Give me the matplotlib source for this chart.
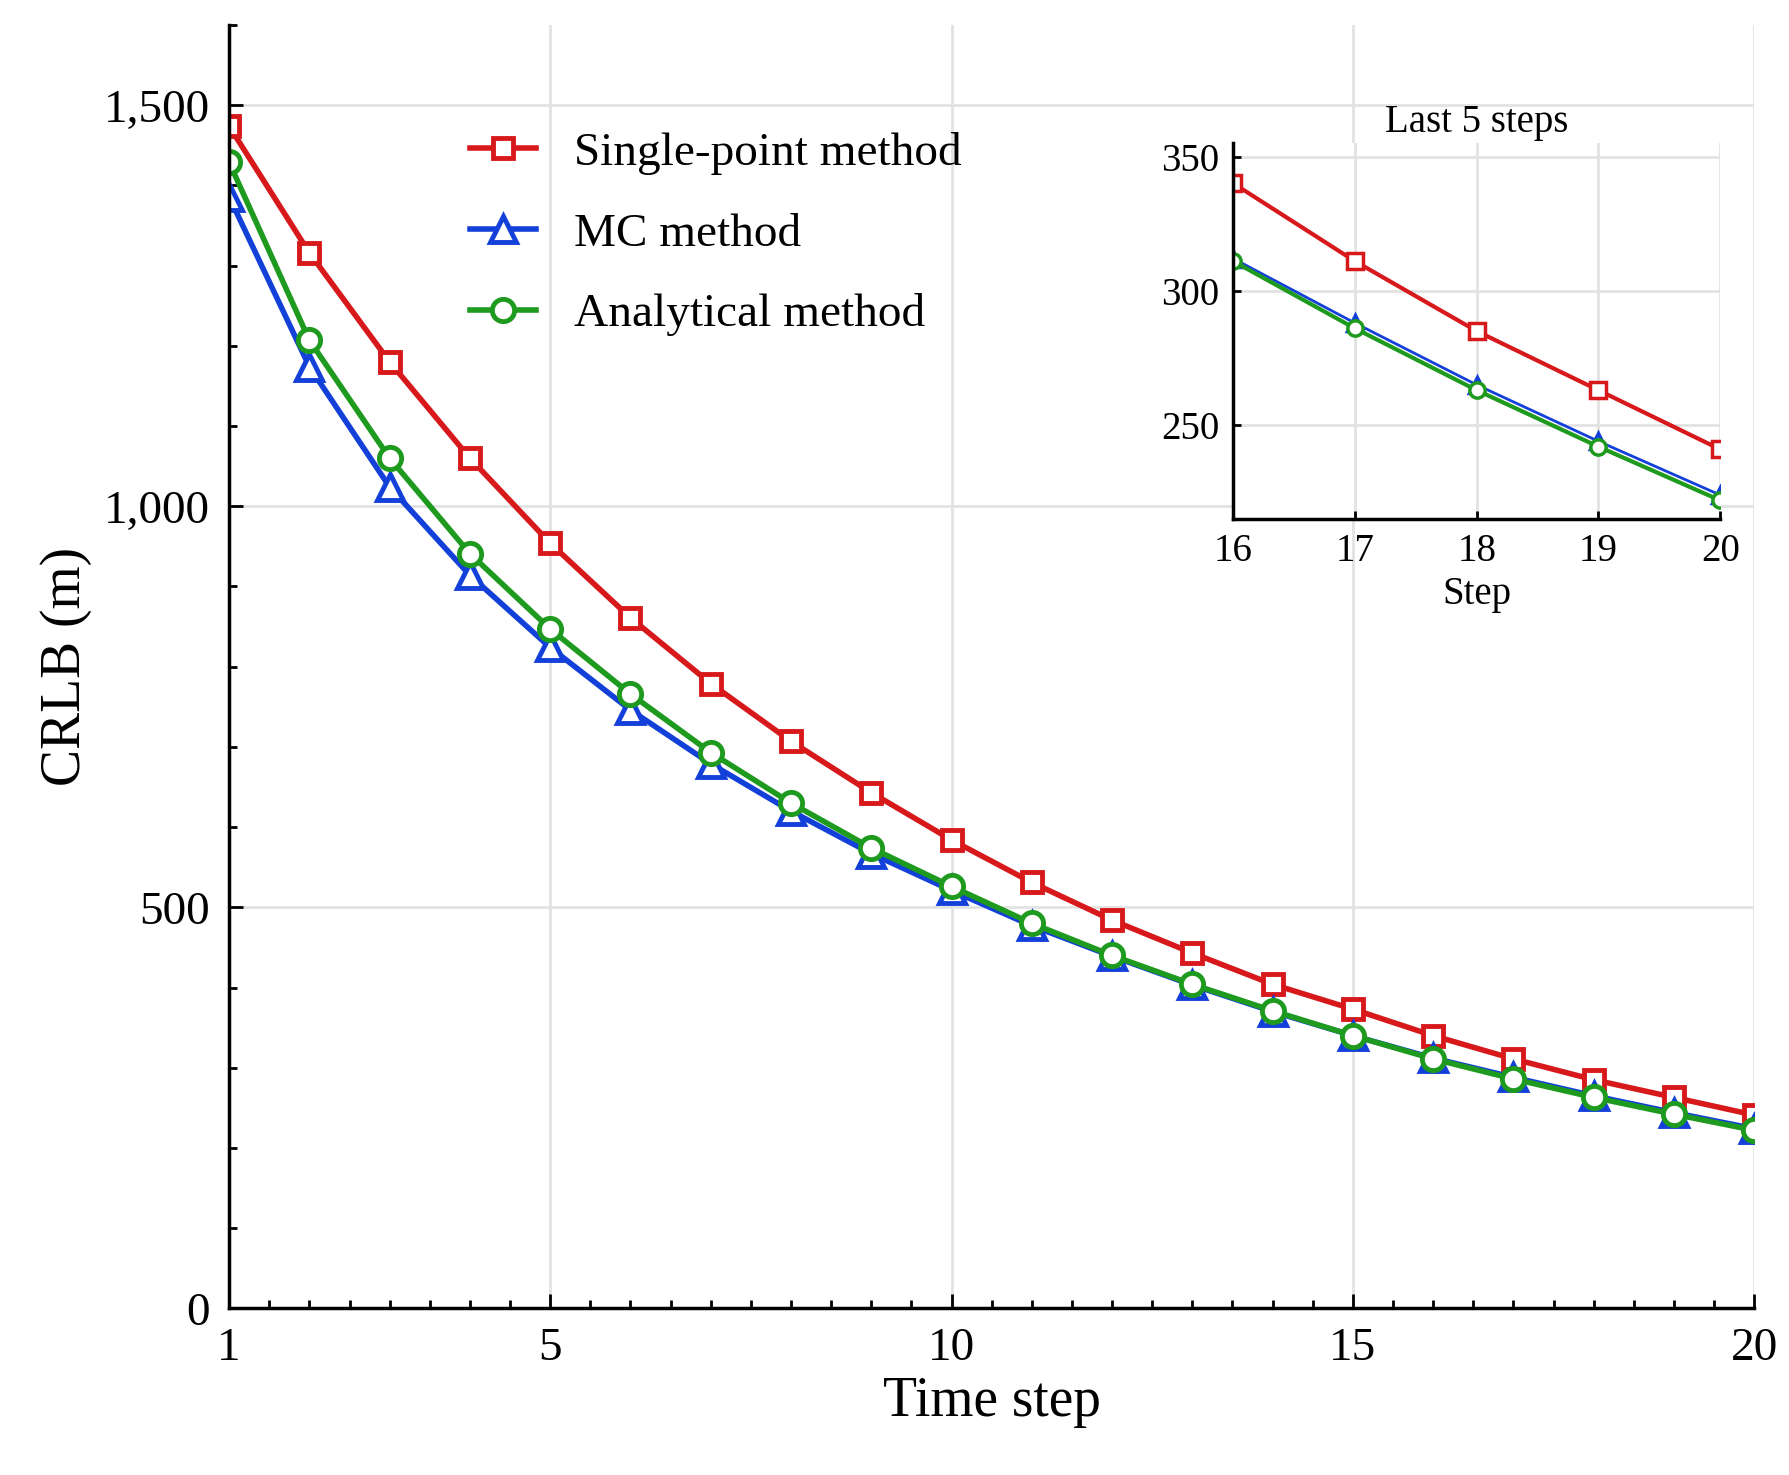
import numpy as np
import matplotlib
matplotlib.use("Agg")
import matplotlib.pyplot as plt
from matplotlib.ticker import MultipleLocator, FuncFormatter

plt.rcParams["font.family"] = ["Liberation Serif", "DejaVu Serif"]

steps = np.arange(1, 21)
single_point = [1474, 1316, 1180, 1060, 954, 861, 779, 707, 643, 584,
                531, 484, 443, 404, 373, 340, 311, 285, 263, 241]
mc_method = [1386, 1174, 1024, 914, 824, 746, 679, 620, 567, 521,
             477, 439, 403, 370, 340, 312, 288, 265, 244, 224]
analytical = [1429, 1207, 1060, 941, 847, 766, 693, 630, 574, 526,
              480, 440, 404, 371, 340, 311, 286, 263, 242, 222]

RED = "#d7191c"
BLUE = "#1240d8"
GREEN = "#1e9a1e"

fig = plt.figure(figsize=(17.9, 14.75), dpi=100)
ax = fig.add_axes([0.128, 0.113, 0.852, 0.87])

ax.plot(steps, single_point, color=RED, lw=4, marker="s", ms=15, mfc="white",
        mew=3.5, label="Single-point method")
ax.plot(steps, mc_method, color=BLUE, lw=4, marker="^", ms=19, mfc="white",
        mew=3.5, label="MC method")
ax.plot(steps, analytical, color=GREEN, lw=4, marker="o", ms=16, mfc="white",
        mew=3.5, label="Analytical method")

ax.set_xlim(1, 20)
ax.set_ylim(0, 1600)
ax.set_xticks([1, 5, 10, 15, 20])
ax.set_yticks([0, 500, 1000, 1500])
ax.xaxis.set_minor_locator(MultipleLocator(0.5))
ax.yaxis.set_minor_locator(MultipleLocator(100))
ax.yaxis.set_major_formatter(FuncFormatter(lambda v, p: f"{int(v):,}"))
ax.tick_params(which="major", direction="in", length=10, width=2, labelsize=34, pad=14)
ax.tick_params(which="minor", direction="in", length=6, width=2)
ax.grid(True, which="major", color="#e2e2e2", lw=2)
for s in ["top", "right"]:
    ax.spines[s].set_visible(False)
for s in ["left", "bottom"]:
    ax.spines[s].set_linewidth(2.5)
ax.set_xlabel("Time step", fontsize=40, labelpad=4)
ax.set_ylabel("CRLB (m)", fontsize=40, labelpad=8)
ax.legend(loc="upper left", bbox_to_anchor=(0.13, 0.95), frameon=False,
          fontsize=34, handlelength=1.4, handletextpad=0.8, labelspacing=0.8)

ins = fig.add_axes([0.689, 0.648, 0.272, 0.255])
ins.plot(steps[15:], single_point[15:], color=RED, lw=3, marker="s", ms=11,
         mfc="white", mew=2.5)
ins.plot(steps[15:], mc_method[15:], color=BLUE, lw=2, marker="^", ms=12,
         mfc="white", mew=2.5)
ins.plot(steps[15:], analytical[15:], color=GREEN, lw=3, marker="o", ms=11,
         mfc="white", mew=2.5)
ins.set_xlim(16, 20)
ins.set_ylim(215, 355)
ins.set_xticks([16, 17, 18, 19, 20])
ins.set_yticks([250, 300, 350])
ins.tick_params(direction="in", length=6, width=2, labelsize=28, pad=10)
ins.grid(True, color="#e2e2e2", lw=2)
for s in ["top", "right"]:
    ins.spines[s].set_visible(False)
for s in ["left", "bottom"]:
    ins.spines[s].set_linewidth(2.5)
ins.set_xlabel("Step", fontsize=28, labelpad=4)
ins.set_title("Last 5 steps", fontsize=28, pad=8)

fig.savefig("out.png", dpi=100)
